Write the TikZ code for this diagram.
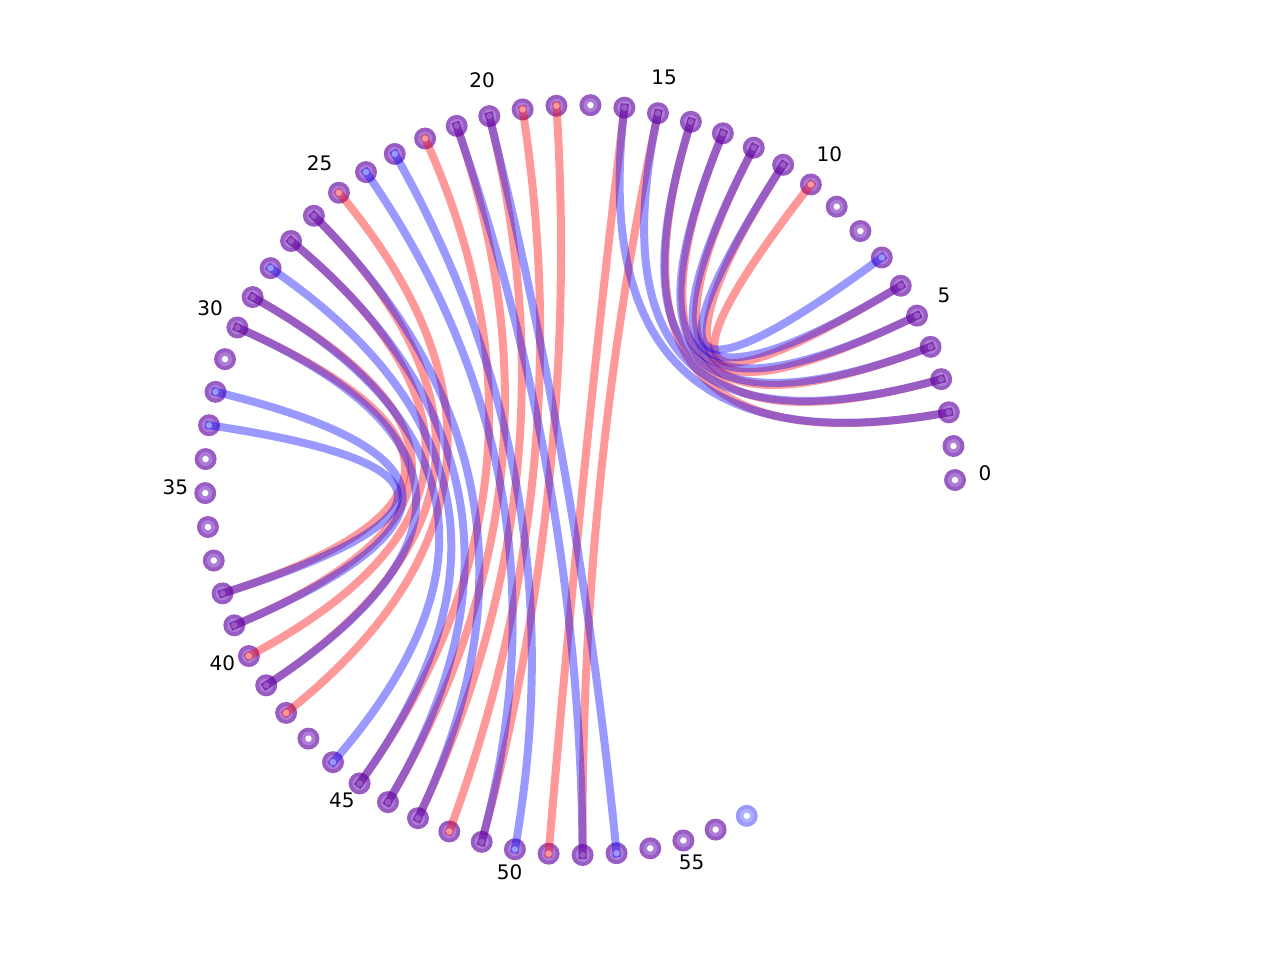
\documentclass[tikz,border=0pt]{standalone}
\usepackage{fontspec}
\setmainfont{DejaVu Sans}
\usetikzlibrary{calc}
\definecolor{nodepurple}{RGB}{153,92,194}
\definecolor{nodeinner}{RGB}{172,124,214}
\definecolor{nodeblue}{RGB}{153,153,255}
\definecolor{nodeblueinner}{RGB}{176,176,255}
\tikzset{
  vtx/.style={circle, inner sep=0pt, minimum size=16.5pt, fill=nodepurple,
    path picture={
      \fill[nodeinner] (path picture bounding box.center) circle (5.25pt);
      \fill[white] (path picture bounding box.center) circle (2.4pt);}},
  vtxb/.style={circle, inner sep=0pt, minimum size=16.5pt, fill=nodeblue,
    path picture={
      \fill[nodeblueinner] (path picture bounding box.center) circle (5.25pt);
      \fill[white] (path picture bounding box.center) circle (2.4pt);}},
  lbl/.style={inner sep=0pt, font=\fontsize{15}{18}\selectfont, text=black},
  rededge/.style={draw=red, draw opacity=0.4, line width=6pt, line cap=rect},
  blueedge/.style={draw=blue, draw opacity=0.4, line width=6pt, line cap=rect}
}
\begin{document}
\begin{tikzpicture}[x=0.75pt, y=-0.75pt]
\useasboundingbox (0,0) rectangle (1280,960);
\coordinate (O) at (580,480);
% vertices
\foreach \i in {0,...,56} {
  \pgfmathsetmacro{\nx}{580+375*cos(\i*5.2)}
  \pgfmathsetmacro{\ny}{480-375*sin(\i*5.2)}
  \node[vtx] (n\i) at (\nx,\ny) {};
}
\pgfmathsetmacro{\nx}{580+375*cos(57*5.2)}
\pgfmathsetmacro{\ny}{480-375*sin(57*5.2)}
\node[vtxb] (n57) at (\nx,\ny) {};
% labels
\foreach \i in {0,5,...,55} {
  \pgfmathsetmacro{\lx}{580+405*cos(\i*5.2)}
  \pgfmathsetmacro{\ly}{480-405*sin(\i*5.2)-7}
  \node[lbl] (l\i) at (\lx,\ly) {\i};
}
% red edges
\foreach \a/\b in {6/10,5/11,4/12,3/13,2/14,16/51,15/52,18/49,19/48,20/47,21/46,22/45,25/42,26/41,27/40,29/39,30/38} {
  \draw[rededge] (n\a.center) .. controls ($(n\a.center)!0.6667!(O)$) and ($(n\b.center)!0.6667!(O)$) .. (n\b.center);
}
% blue edges
\foreach \a/\b in {7/11,6/12,5/13,4/14,3/15,2/16,20/53,21/52,23/50,24/49,26/47,27/46,28/45,29/44,30/41,32/39,33/38} {
  \draw[blueedge] (n\a.center) .. controls ($(n\a.center)!0.6667!(O)$) and ($(n\b.center)!0.6667!(O)$) .. (n\b.center);
}
\end{tikzpicture}
\end{document}
